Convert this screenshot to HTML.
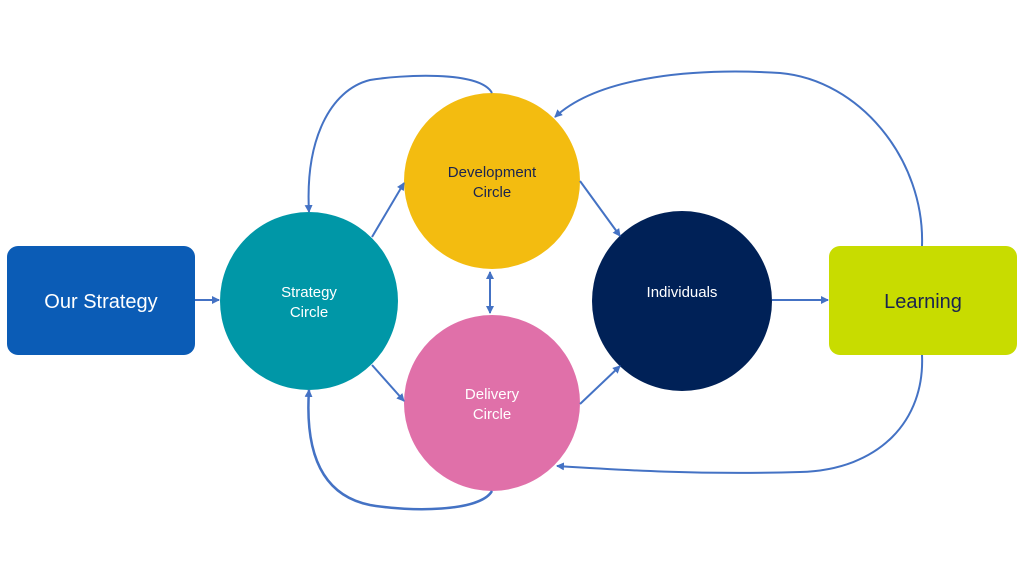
<!DOCTYPE html>
<html><head><meta charset="utf-8"><style>
html,body{margin:0;padding:0;background:#fff;}
svg{display:block}
text{font-family:"Liberation Sans",sans-serif;}
</style></head><body>
<svg width="1024" height="576" viewBox="0 0 1024 576" xmlns="http://www.w3.org/2000/svg">
<defs>
<marker id="a" markerWidth="8" markerHeight="8" refX="7" refY="4" orient="auto" markerUnits="userSpaceOnUse">
<path d="M0,0 L8,4 L0,8 z" fill="#4472C4"/></marker>
<marker id="s" markerWidth="8" markerHeight="8" refX="1" refY="4" orient="auto" markerUnits="userSpaceOnUse">
<path d="M8,0 L0,4 L8,8 z" fill="#4472C4"/></marker>
</defs>
<rect x="7" y="246" width="188" height="109" rx="11" fill="#0B5CB6"/>
<text x="101" y="308" font-size="20" fill="#fff" text-anchor="middle">Our Strategy</text>
<rect x="829" y="246" width="188" height="109" rx="11" fill="#C8DC00"/>
<text x="923" y="308" font-size="20" fill="#1a2450" text-anchor="middle">Learning</text>
<circle cx="309" cy="301" r="89" fill="#0097A7"/>
<circle cx="492" cy="181" r="88" fill="#F3BC10"/>
<circle cx="492" cy="403" r="88" fill="#E070A9"/>
<circle cx="682" cy="301" r="90" fill="#002157"/>
<text x="309" y="297" font-size="15" fill="#fff" text-anchor="middle">Strategy</text>
<text x="309" y="317" font-size="15" fill="#fff" text-anchor="middle">Circle</text>
<text x="492" y="177" font-size="15" fill="#1a2450" text-anchor="middle">Development</text>
<text x="492" y="197" font-size="15" fill="#1a2450" text-anchor="middle">Circle</text>
<text x="492" y="399" font-size="15" fill="#fff" text-anchor="middle">Delivery</text>
<text x="492" y="419" font-size="15" fill="#fff" text-anchor="middle">Circle</text>
<text x="682" y="297" font-size="15" fill="#fff" text-anchor="middle">Individuals</text>
<g stroke="#4472C4" stroke-width="2" fill="none">
<line x1="195" y1="300" x2="219" y2="300" marker-end="url(#a)"/>
<line x1="372" y1="237" x2="404" y2="183" marker-end="url(#a)"/>
<line x1="372" y1="365" x2="404" y2="401" marker-end="url(#a)"/>
<line x1="490" y1="272" x2="490" y2="313" marker-start="url(#s)" marker-end="url(#a)"/>
<line x1="580" y1="181" x2="620" y2="236" marker-end="url(#a)"/>
<line x1="580" y1="404" x2="620" y2="366" marker-end="url(#a)"/>
<line x1="772" y1="300" x2="828" y2="300" marker-end="url(#a)"/>
<path d="M492,93 C480,70 400,75 370,80 C330,90 305,140 309,212" marker-end="url(#a)"/>
<path d="M922,246 C925,160 860,80 780,73 C700,68 600,75 555,117" marker-end="url(#a)"/>
<path d="M922,355 C925,420 880,470 800,472 C700,475 620,470 557,466" marker-end="url(#a)"/>
<path d="M492,491 C480,512 410,512 370,505 C320,495 305,450 309,390" stroke-width="2.5" marker-end="url(#a)"/>
</g>
</svg>
</body></html>
